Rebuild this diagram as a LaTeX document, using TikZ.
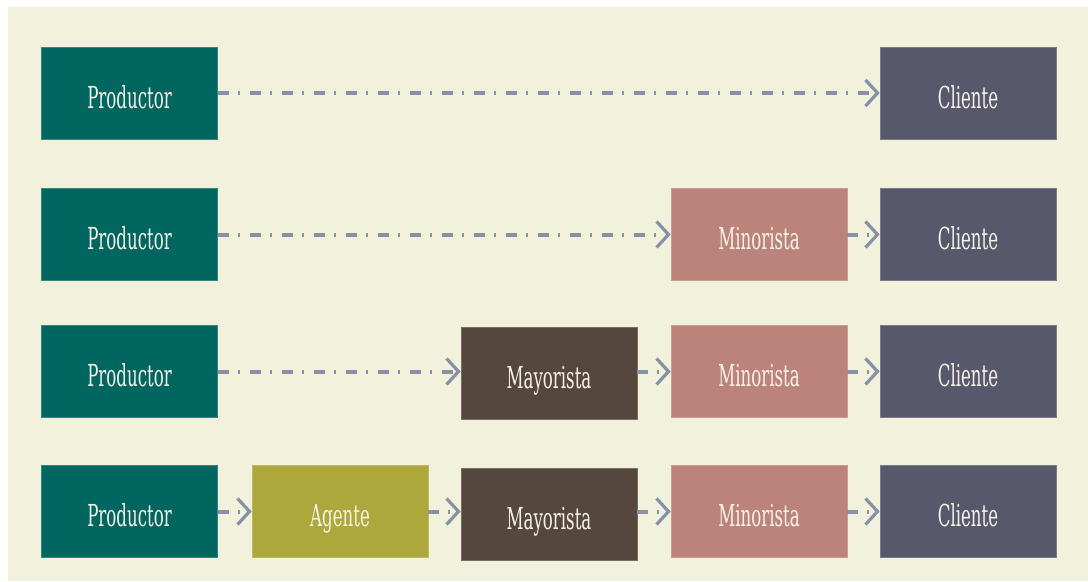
\documentclass[tikz,border=0pt]{standalone}
\usepackage{fontspec}
\setmainfont{DejaVu Serif}[FakeStretch=0.55]
\usetikzlibrary{arrows.meta}

\definecolor{fondo}{HTML}{F2F1DC}
\definecolor{productor}{HTML}{016660}
\definecolor{agente}{HTML}{ADA83B}
\definecolor{mayorista}{HTML}{56473E}
\definecolor{minorista}{HTML}{BC837A}
\definecolor{cliente}{HTML}{58586D}
\definecolor{flecha}{HTML}{8591A6}
\definecolor{letra}{HTML}{F6F2E6}

\tikzset{
    caja/.style={fill=#1, draw=#1!80!white, line width=0.4pt, text=letra,
        minimum width=4.4cm, minimum height=2.3cm, inner sep=0pt,
        text height=0.75cm, text depth=0cm,
        font=\fontsize{21.5}{23}\selectfont},
    canal/.style={draw=flecha, line width=0.1cm,
        dash pattern=on 0.275cm off 0.225cm on 0.05cm off 0.25cm,
        -{Straight Barb[length=0.3cm,width=0.65cm,line width=0.08cm]}},
}

\begin{document}
\begin{tikzpicture}[x=0.025cm,y=-0.025cm]

    \def\pr{129.5}  %column of productor
    \def\ag{340}    %column of agente
    \def\ma{549}    %column of mayorista
    \def\mi{759}    %column of minorista
    \def\cl{968}    %column of cliente

    %FRAME
    \useasboundingbox (0,0) rectangle (1088,581);
    \fill[fondo] (8,7) rectangle (1088,581);

    %ROW 1: directo
    \node[caja=productor] (p1) at (\pr,93) {Productor};
    \node[caja=cliente]   (c1) at (\cl,93) {Cliente};
    \draw[canal] (p1.east) -- (c1.west);

    %ROW 2: minorista
    \node[caja=productor] (p2) at (\pr,234.5) {Productor};
    \node[caja=minorista] (n2) at (\mi,234.5) {Minorista};
    \node[caja=cliente]   (c2) at (\cl,234.5) {Cliente};
    \draw[canal] (p2.east) -- (n2.west);
    \draw[canal] (n2.east) -- (c2.west);

    %ROW 3: mayorista + minorista
    \node[caja=productor] (p3) at (\pr,371.5) {Productor};
    \node[caja=mayorista] (m3) at (\ma,373.5) {Mayorista};
    \node[caja=minorista] (n3) at (\mi,371.5) {Minorista};
    \node[caja=cliente]   (c3) at (\cl,371.5) {Cliente};
    \draw[canal] (p3.east) -- (p3.east -| m3.west);
    \draw[canal] (n3.west -| m3.east) -- (n3.west);
    \draw[canal] (n3.east) -- (c3.west);

    %ROW 4: agente + mayorista + minorista
    \node[caja=productor] (p4) at (\pr,511.5) {Productor};
    \node[caja=agente]    (a4) at (\ag,511.5) {Agente};
    \node[caja=mayorista] (m4) at (\ma,514.5) {Mayorista};
    \node[caja=minorista] (n4) at (\mi,511.5) {Minorista};
    \node[caja=cliente]   (c4) at (\cl,511.5) {Cliente};
    \draw[canal] (p4.east) -- (a4.west);
    \draw[canal] (a4.east) -- (a4.east -| m4.west);
    \draw[canal] (n4.west -| m4.east) -- (n4.west);
    \draw[canal] (n4.east) -- (c4.west);

\end{tikzpicture}
\end{document}
